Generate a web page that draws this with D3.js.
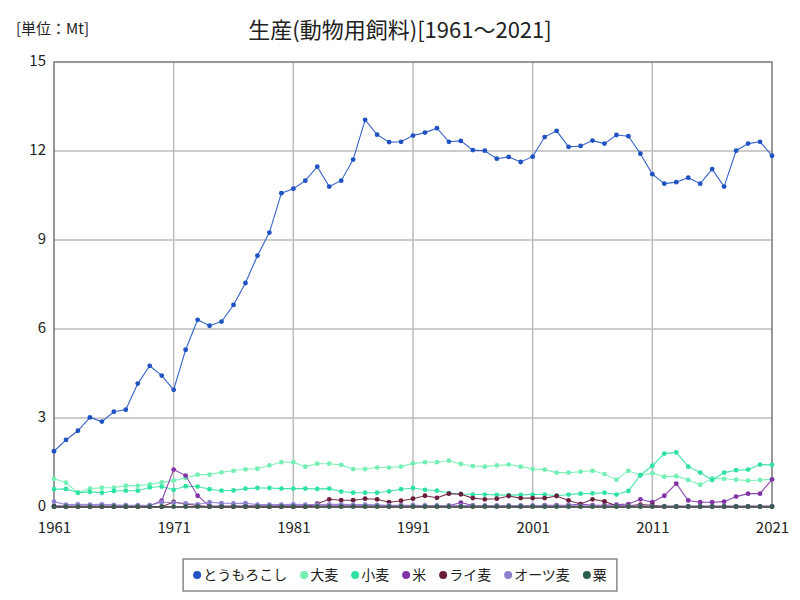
<!DOCTYPE html>
<html>
<head>
<meta charset="utf-8">
<script src="https://cdn.jsdelivr.net/npm/d3@7"></script>
<style>
  body { margin: 0; background: #fff; }
  svg { font-family: "Noto Sans CJK JP", "Noto Sans", sans-serif; }
</style>
</head>
<body>
<script>
const width = 800, height = 600;
const margin = {top: 62, right: 28, bottom: 93, left: 54};

const years = d3.range(1961, 2022);
const yTicks = [0, 3, 6, 9, 12, 15];
const xTicks = [1961, 1971, 1981, 1991, 2001, 2011, 2021];

const seriesNames = ["とうもろこし", "大麦", "小麦", "米", "ライ麦", "オーツ麦", "粟"];
const seriesColors = ["#1f52c2", "#74efb4", "#30e2a2", "#8034a6", "#6b1d3c", "#8f80cf", "#2a5e48"];

const corn = [1.88, 2.26, 2.57, 3.02, 2.88, 3.21, 3.28, 4.16, 4.76, 4.43,
  3.95, 5.30, 6.31, 6.11, 6.25, 6.81, 7.55, 8.47, 9.25, 10.58,
  10.73, 11.00, 11.47, 10.80, 11.00, 11.71, 13.05, 12.55, 12.30, 12.31,
  12.52, 12.62, 12.77, 12.31, 12.34, 12.03, 12.01, 11.74, 11.80, 11.63,
  11.81, 12.47, 12.68, 12.14, 12.17, 12.35, 12.25, 12.54, 12.50, 11.91,
  11.22, 10.90, 10.95, 11.10, 10.90, 11.39, 10.80, 12.01, 12.25, 12.31, 11.84];

const barley = [0.95, 0.82, 0.48, 0.62, 0.65, 0.65, 0.72, 0.72, 0.76, 0.83,
  0.89, 0.98, 1.09, 1.09, 1.17, 1.22, 1.27, 1.29, 1.40, 1.51,
  1.51, 1.36, 1.46, 1.46, 1.42, 1.28, 1.28, 1.33, 1.33, 1.36,
  1.47, 1.51, 1.51, 1.56, 1.45, 1.38, 1.36, 1.40, 1.43, 1.36,
  1.28, 1.26, 1.16, 1.16, 1.19, 1.22, 1.11, 0.92, 1.22, 1.07,
  1.14, 1.02, 1.04, 0.91, 0.75, 0.96, 0.95, 0.92, 0.89, 0.91, 0.93];

const wheat = [0.60, 0.61, 0.48, 0.51, 0.48, 0.54, 0.55, 0.55, 0.66, 0.69,
  0.58, 0.70, 0.69, 0.60, 0.55, 0.56, 0.62, 0.64, 0.64, 0.62,
  0.62, 0.62, 0.61, 0.62, 0.52, 0.48, 0.48, 0.48, 0.53, 0.60,
  0.64, 0.58, 0.55, 0.47, 0.44, 0.42, 0.42, 0.41, 0.40, 0.41,
  0.42, 0.42, 0.38, 0.42, 0.45, 0.46, 0.48, 0.42, 0.54, 1.07,
  1.39, 1.80, 1.84, 1.36, 1.16, 0.91, 1.16, 1.24, 1.26, 1.43, 1.42];

const rice = [0.04, 0.03, 0.03, 0.03, 0.03, 0.03, 0.03, 0.03, 0.04, 0.21,
  1.26, 1.06, 0.38, 0.03, 0.03, 0.03, 0.04, 0.04, 0.04, 0.04,
  0.04, 0.04, 0.04, 0.04, 0.04, 0.04, 0.04, 0.04, 0.04, 0.04,
  0.04, 0.04, 0.04, 0.04, 0.15, 0.05, 0.04, 0.04, 0.04, 0.04,
  0.04, 0.06, 0.06, 0.06, 0.10, 0.06, 0.06, 0.08, 0.10, 0.26,
  0.16, 0.38, 0.79, 0.22, 0.16, 0.16, 0.18, 0.35, 0.45, 0.45, 0.93];

const rye = [0.01, 0.01, 0.01, 0.01, 0.01, 0.01, 0.01, 0.01, 0.01, 0.01,
  0.17, 0.10, 0.05, 0.01, 0.01, 0.01, 0.01, 0.01, 0.01, 0.01,
  0.01, 0.01, 0.11, 0.26, 0.23, 0.23, 0.28, 0.26, 0.16, 0.21,
  0.28, 0.38, 0.31, 0.45, 0.43, 0.30, 0.26, 0.28, 0.37, 0.30,
  0.30, 0.30, 0.37, 0.22, 0.10, 0.26, 0.19, 0.04, 0.04, 0.08,
  0.06, 0.02, 0.02, 0.02, 0.02, 0.02, 0.02, 0.02, 0.02, 0.02, 0.02];

const oats = [0.18, 0.08, 0.09, 0.08, 0.09, 0.07, 0.06, 0.06, 0.06, 0.16,
  0.15, 0.12, 0.09, 0.16, 0.13, 0.12, 0.13, 0.08, 0.08, 0.08,
  0.09, 0.08, 0.08, 0.09, 0.09, 0.08, 0.08, 0.07, 0.06, 0.06,
  0.06, 0.05, 0.05, 0.05, 0.05, 0.05, 0.05, 0.05, 0.05, 0.05,
  0.05, 0.05, 0.05, 0.05, 0.04, 0.04, 0.04, 0.04, 0.04, 0.04,
  0.03, 0.03, 0.03, 0.03, 0.03, 0.03, 0.03, 0.03, 0.03, 0.03, 0.03];

const millet = [0.01, 0.01, 0.01, 0.01, 0.01, 0.01, 0.01, 0.01, 0.01, 0.01,
  0.01, 0.01, 0.01, 0.01, 0.01, 0.01, 0.01, 0.01, 0.01, 0.01,
  0.01, 0.01, 0.01, 0.01, 0.01, 0.01, 0.01, 0.01, 0.01, 0.01,
  0.01, 0.01, 0.01, 0.01, 0.01, 0.01, 0.01, 0.01, 0.01, 0.01,
  0.01, 0.01, 0.01, 0.01, 0.01, 0.01, 0.01, 0.01, 0.01, 0.01,
  0.01, 0.01, 0.01, 0.01, 0.01, 0.01, 0.01, 0.01, 0.01, 0.01, 0.01];

const seriesValues = [corn, barley, wheat, rice, rye, oats, millet];

const series = seriesNames.map((name, i) => ({
  name: name,
  color: seriesColors[i],
  values: years.map((yr, j) => ({year: yr, value: seriesValues[i][j]}))
}));

const svg = d3.select("body").append("svg")
    .attr("width", width)
    .attr("height", height);

const x = d3.scaleLinear()
    .domain([1961, 2021])
    .range([margin.left, width - margin.right]);

const y = d3.scaleLinear()
    .domain([0, 15])
    .range([height - margin.bottom, margin.top]);

// grid
svg.append("g")
    .attr("stroke", "#bbb")
    .attr("stroke-width", 1.5)
  .selectAll("line.v")
  .data(xTicks.slice(1, -1))
  .enter().append("line")
    .attr("x1", d => x(d)).attr("x2", d => x(d))
    .attr("y1", y(15)).attr("y2", y(0));

svg.append("g")
    .attr("stroke", "#bbb")
    .attr("stroke-width", 1.5)
  .selectAll("line.h")
  .data(yTicks.slice(1, -1))
  .enter().append("line")
    .attr("x1", x(1961)).attr("x2", x(2021))
    .attr("y1", d => y(d)).attr("y2", d => y(d));

// frame
svg.append("rect")
    .attr("x", x(1961))
    .attr("y", y(15))
    .attr("width", x(2021) - x(1961))
    .attr("height", y(0) - y(15))
    .attr("fill", "none")
    .attr("stroke", "#777")
    .attr("stroke-width", 1.5);

// axes
const yAxis = g => g
    .attr("transform", `translate(${margin.left},0)`)
    .call(d3.axisLeft(y).tickValues(yTicks).tickSize(0).tickPadding(8))
    .call(g => g.select(".domain").remove())
    .call(g => g.selectAll("text").attr("font-size", 15).attr("fill", "#222")
      .attr("dy", "0.2em")
      .attr("font-family", "'Noto Sans CJK JP', sans-serif"));

const xAxis = g => g
    .attr("transform", `translate(0,${height - margin.bottom})`)
    .call(d3.axisBottom(x).tickValues(xTicks).tickFormat(d3.format("d")).tickSize(0).tickPadding(15))
    .call(g => g.select(".domain").remove())
    .call(g => g.selectAll("text").attr("font-size", 15).attr("fill", "#222")
      .attr("font-family", "'Noto Sans CJK JP', sans-serif"));

svg.append("g").call(yAxis);
svg.append("g").call(xAxis);

// lines
const line = d3.line()
    .x(d => x(d.year))
    .y(d => y(d.value));

const sg = svg.append("g")
  .selectAll("g")
  .data(series)
  .enter().append("g");

sg.append("path")
    .attr("d", d => line(d.values))
    .attr("fill", "none")
    .attr("stroke", d => d.color)
    .attr("stroke-width", 1.1)
    .attr("stroke-opacity", 0.9);

sg.selectAll("circle")
  .data(d => d.values.map(v => ({...v, color: d.color})))
  .enter().append("circle")
    .attr("cx", d => x(d.year))
    .attr("cy", d => y(d.value))
    .attr("r", 2.4)
    .attr("fill", d => d.color);

// bottom axis line over marks
svg.append("line")
    .attr("x1", x(1961)).attr("x2", x(2021))
    .attr("y1", y(0)).attr("y2", y(0))
    .attr("stroke", "#555")
    .attr("stroke-width", 1.5);

// titles
svg.append("text")
    .attr("x", 400)
    .attr("y", 38)
    .attr("text-anchor", "middle")
    .attr("font-size", 22)
    .attr("fill", "#222")
    .text("生産(動物用飼料)[1961～2021]");

svg.append("text")
    .attr("x", 16)
    .attr("y", 34)
    .attr("font-size", 15)
    .attr("fill", "#222")
    .text("[単位：Mt]");

// legend
const legend = svg.append("g");
const legendBox = legend.append("rect")
    .attr("fill", "#fff")
    .attr("stroke", "#888")
    .attr("stroke-width", 1.5);

let lx = 0;
const items = legend.selectAll("g.item")
  .data(series)
  .enter().append("g");

items.each(function(d) {
  const g = d3.select(this);
  g.append("circle")
      .attr("cx", 4)
      .attr("cy", 0)
      .attr("r", 4)
      .attr("fill", d.color);
  const t = g.append("text")
      .attr("x", 10)
      .attr("y", 5)
      .attr("font-size", 14)
      .attr("fill", "#222")
      .text(d.name);
  g.attr("transform", `translate(${lx},0)`);
  lx += 10 + t.node().getComputedTextLength() + 13;
});

const totalW = lx - 13;
const lx0 = 400 - totalW / 2;
legend.attr("transform", `translate(${lx0},575)`);
legendBox
    .attr("x", -10)
    .attr("y", -16)
    .attr("width", totalW + 20)
    .attr("height", 32);
</script>
</body>
</html>
